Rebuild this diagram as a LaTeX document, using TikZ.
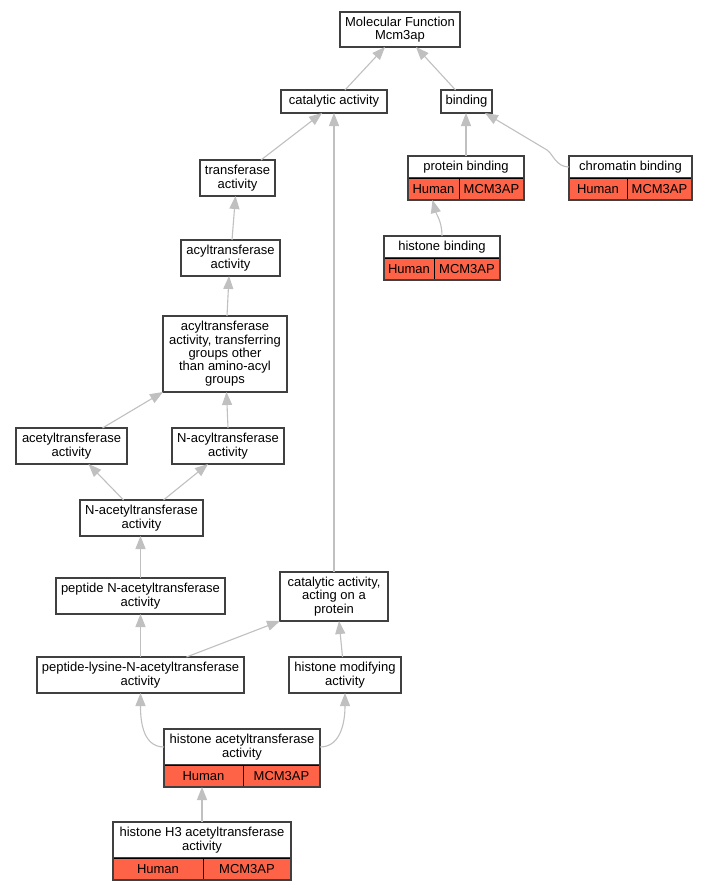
\documentclass[tikz,border=0pt]{standalone}
\usepackage{fontspec}
\setmainfont{Liberation Sans}
\usetikzlibrary{arrows.meta,positioning}
\definecolor{edgegray}{RGB}{192,192,192}
\definecolor{boxgray}{RGB}{64,64,64}
\definecolor{tomato}{RGB}{255,99,71}

\begin{document}
\begin{tikzpicture}[x=1pt,y=-1pt,
    term/.style={draw=boxgray,line width=1.6pt,fill=white,align=center,inner sep=1pt,outer sep=0pt,
        font=\fontsize{13}{13.3}\selectfont},
    cell/.style={draw=black,line width=0.8pt,fill=tomato,anchor=north west,minimum height=22pt,
        inner sep=0pt,outer sep=0pt,font=\fontsize{13}{13.3}\selectfont},
    tablebox/.style={draw=boxgray,line width=1.6pt},
    edge/.style={draw=edgegray,line width=1.1pt,-{Triangle[length=13pt,width=10pt]}}]
    \useasboundingbox[fill=white] (0,0) rectangle (708,891);

    % === Racine ===
    \node[term,minimum width=120pt,minimum height=35pt] (mf) at (400,29.5) {Molecular Function\\Mcm3ap};
    \node[term,minimum width=106pt,minimum height=23pt] (cat) at (334,101.5) {catalytic activity};
    \node[term,minimum width=51pt,minimum height=23pt] (bind) at (466.5,101.5) {binding};

    % === Binding ===
    \node[term,minimum width=116pt,minimum height=22pt] (pbind) at (466,167) {protein binding};
    \node[cell,minimum width=51pt] (pbindh) at (pbind.south west) {Human};
    \node[cell,minimum width=65pt] (pbindm) at (pbindh.north east) {MCM3AP};
    \draw[tablebox] (pbind.north west) rectangle (pbindm.south east);

    \node[term,minimum width=123pt,minimum height=22pt] (cbind) at (630.5,167) {chromatin binding};
    \node[cell,minimum width=58pt] (cbindh) at (cbind.south west) {Human};
    \node[cell,minimum width=65pt] (cbindm) at (cbindh.north east) {MCM3AP};
    \draw[tablebox] (cbind.north west) rectangle (cbindm.south east);

    \node[term,minimum width=116pt,minimum height=22pt] (hbind) at (442,247) {histone binding};
    \node[cell,minimum width=50pt] (hbindh) at (hbind.south west) {Human};
    \node[cell,minimum width=66pt] (hbindm) at (hbindh.north east) {MCM3AP};
    \draw[tablebox] (hbind.north west) rectangle (hbindm.south east);

    % === Transferases ===
    \node[term,minimum width=75pt,minimum height=36pt] (trans) at (237.5,178) {transferase\\activity};
    \node[term,minimum width=99pt,minimum height=36pt] (acyl) at (230.5,258) {acyltransferase\\activity};
    \node[term,minimum width=124pt,minimum height=76pt] (acylo) at (225,354)
        {acyltransferase\\activity, transferring\\groups other\\than amino-acyl\\groups};
    \node[term,minimum width=111pt,minimum height=36pt] (acet) at (71.5,446) {acetyltransferase\\activity};
    \node[term,minimum width=112pt,minimum height=36pt] (nacyl) at (228,446) {N-acyltransferase\\activity};
    \node[term,minimum width=123pt,minimum height=36pt] (nacet) at (141.5,518) {N-acetyltransferase\\activity};
    \node[term,minimum width=169pt,minimum height=36pt] (pepnacet) at (140.5,596) {peptide N-acetyltransferase\\activity};
    \node[term,minimum width=108pt,minimum height=49pt] (catprot) at (334,596.5) {catalytic activity,\\acting on a\\protein};
    \node[term,minimum width=207pt,minimum height=36pt] (pln) at (140.5,675) {peptide-lysine-N-acetyltransferase\\activity};
    \node[term,minimum width=112pt,minimum height=36pt] (hmod) at (345,675) {histone modifying\\activity};

    % === Histones ===
    \node[term,minimum width=156pt,minimum height=36pt] (hat) at (242,747) {histone acetyltransferase\\activity};
    \node[cell,minimum width=79pt] (hath) at (hat.south west) {Human};
    \node[cell,minimum width=77pt] (hatm) at (hath.north east) {MCM3AP};
    \draw[tablebox] (hat.north west) rectangle (hatm.south east);

    \node[term,minimum width=178pt,minimum height=36pt] (h3) at (202,840) {histone H3 acetyltransferase\\activity};
    \node[cell,minimum width=90pt] (h3h) at (h3.south west) {Human};
    \node[cell,minimum width=88pt] (h3m) at (h3h.north east) {MCM3AP};
    \draw[tablebox] (h3.north west) rectangle (h3m.south east);

    % Liens
    \draw[edge] ([xshift=11pt]cat.north) -- ([xshift=-15pt]mf.south);
    \draw[edge] ([xshift=-11pt]bind.north) -- ([xshift=16pt]mf.south);
    \draw[edge] (pbind.north) -- (pbind.north |- bind.south);
    \coordinate (cbbend) at (547,150);
    \draw[edge] (cbind.west) .. controls (556,167) and (553,154) .. (cbbend) -- ([xshift=18.5pt]bind.south);
    \draw[edge] (hbind.north) to[out=90,in=-75] ([xshift=-1pt]pbindh.south);

    \draw[edge] ([xshift=23.5pt]trans.north) -- ([xshift=-12pt]cat.south);
    \draw[edge] ([xshift=1.5pt]acyl.north) -- ([xshift=-2pt]trans.south);
    \draw[edge] ([xshift=2pt]acylo.north) -- ([xshift=-1.5pt]acyl.south);
    \draw[edge] ([xshift=31pt]acet.north) -- (acylo.south west);
    \draw[edge] (nacyl.north) -- ([xshift=1.5pt]acylo.south);
    \draw[edge] ([xshift=-18pt]nacet.north) -- ([xshift=17pt]acet.south);
    \draw[edge] ([xshift=22pt]nacet.north) -- ([xshift=-20pt]nacyl.south);
    \draw[edge] (pepnacet.north) -- (pepnacet.north |- nacet.south);
    \draw[edge] (pln.north) -- (pln.north |- pepnacet.south);
    \draw[edge] ([xshift=46pt]pln.north) -- (catprot.south west);
    \draw[edge] ([xshift=-2.5pt]hmod.north) -- ([xshift=5pt]catprot.south);
    \draw[edge] (catprot.north) -- (cat.south);
    \draw[edge] (hat.west) to[out=180,in=-90] (pln.south);
    \draw[edge] (hat.east) to[out=0,in=-90] (hmod.south);
    \draw[edge] (h3.north) -- (h3.north |- hath.south);
\end{tikzpicture}
\end{document}
